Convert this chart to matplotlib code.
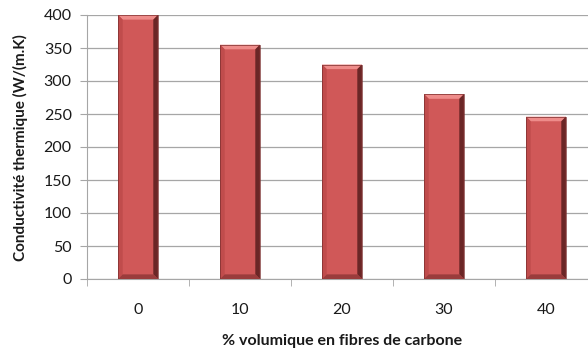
import matplotlib
matplotlib.use("Agg")
import matplotlib.pyplot as plt
from matplotlib.patches import Polygon

categories = ["0", "10", "20", "30", "40"]
conductivity = [400, 355, 325, 280, 246]
yticks = [0, 50, 100, 150, 200, 250, 300, 350, 400]

plt.rcParams["font.family"] = ["Lato", "DejaVu Sans"]

W, H = 588, 352
fig = plt.figure(figsize=(W / 100, H / 100), dpi=100)
ax = fig.add_axes([87 / W, 73 / H, (W - 87) / W, 264 / H])

bar_w = 0.39
xs = list(range(len(categories)))
face = "#d05858"
ax.bar(xs, conductivity, width=bar_w, color=face, linewidth=0, zorder=3)

# bevelled edges: light top, dark right and bottom, soft left
bx = 0.045   # bevel width in x units
by = 7.0     # bevel height in y units
for x, v in zip(xs, conductivity):
    l, r = x - bar_w / 2, x + bar_w / 2
    top = [(l, v), (r, v), (r - bx, v - by), (l + bx, v - by)]
    right = [(r, v), (r, 0), (r - bx, by), (r - bx, v - by)]
    left = [(l, v), (l + bx, v - by), (l + bx, by), (l, 0)]
    bottom = [(l, 0), (r, 0), (r - bx, by), (l + bx, by)]
    ax.add_patch(Polygon(top, closed=True, color="#ee8c8a", lw=0, zorder=4))
    ax.add_patch(Polygon(right, closed=True, color="#6a2626", lw=0, zorder=4))
    ax.add_patch(Polygon(left, closed=True, color="#c04c4c", lw=0, zorder=4))
    ax.add_patch(Polygon(bottom, closed=True, color="#9a3c3c", lw=0, zorder=4))
    ax.add_patch(Polygon([(l, v), (r, v), (r, 0), (l, 0)], closed=True,
                         fill=False, ec="#7a2e2e", lw=0.5, zorder=5))

ax.set_xlim(-0.5, -0.5 + (W - 87) / 102)
ax.set_ylim(0, 400)
ax.set_yticks(yticks)
ax.set_yticklabels([str(t) for t in yticks])
ax.set_xticks(xs)
ax.set_xticklabels(categories)
ax.set_xticks([i - 0.5 for i in range(len(categories))], minor=True)

grid_c = "#a6a6a6"
ax.yaxis.grid(True, color=grid_c, linewidth=0.9, zorder=0)
ax.set_axisbelow(True)
for s in ["top", "right"]:
    ax.spines[s].set_visible(False)
ax.spines["left"].set_color(grid_c)
ax.spines["bottom"].set_color(grid_c)
ax.tick_params(axis="x", which="major", length=0, pad=17, labelsize=11.5,
               colors="#1a1a1a")
ax.tick_params(axis="x", which="minor", length=5, color=grid_c,
               direction="out")
ax.tick_params(axis="y", length=5, color=grid_c, labelsize=11.5,
               colors="#1a1a1a", pad=6)

fig.text(20 / W, 1 - 148 / H, "Conductivité thermique (W/(m.K)", rotation=90,
         ha="center", va="center", fontsize=11, fontweight="bold", color="#1a1a1a")
fig.text(342 / W, 1 - 341 / H, "% volumique en fibres de carbone",
         ha="center", va="center", fontsize=11.5, fontweight="bold", color="#1a1a1a")

fig.savefig("out.png", dpi=100)
